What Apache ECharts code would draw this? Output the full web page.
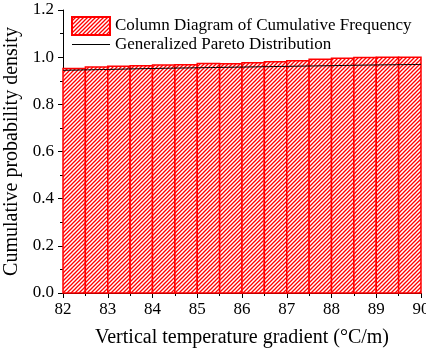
<!DOCTYPE html>
<html>
<head>
<meta charset="utf-8">
<script src="https://cdn.jsdelivr.net/npm/echarts@6/dist/echarts.min.js"></script>
<style>
  html, body {margin: 0; padding: 0; background: #fff;}
  #main {width: 426px; height: 349px;}
</style>
</head>
<body>
<div id="main"></div>
<script>
  // histogram bins (left edge, right edge) and cumulative frequency
  const binStarts = [82, 82.5, 83, 83.5, 84, 84.5, 85, 85.5, 86, 86.5, 87, 87.5, 88, 88.5, 89, 89.5];
  const binWidth = 0.5;
  const cumFreq = [0.952, 0.958, 0.962, 0.964, 0.967, 0.968, 0.973, 0.972, 0.976, 0.981, 0.985, 0.991, 0.995, 0.999, 1.0, 1.0];
  // fitted GPD curve
  const gpdX = [82, 83, 84, 85, 86, 87, 88, 89, 90];
  const gpdY = [0.944, 0.948, 0.952, 0.955, 0.958, 0.961, 0.964, 0.967, 0.969];

  const font = '"Liberation Serif", "Times New Roman", serif';
  const red = '#ff0000';

  // hatch pattern for the columns
  const pc = document.createElement('canvas');
  pc.width = 4; pc.height = 4;
  const g = pc.getContext('2d');
  g.fillStyle = '#fff';
  g.fillRect(0, 0, 4, 4);
  g.strokeStyle = red;
  g.lineWidth = 1.3;
  g.beginPath();
  g.moveTo(-1, 5); g.lineTo(5, -1);
  g.moveTo(-1, 1); g.lineTo(1, -1);
  g.moveTo(3, 5); g.lineTo(5, 3);
  g.stroke();
  const hatch = {image: pc, repeat: 'repeat'};

  const barData = binStarts.map((s, i) => [s, s + binWidth, cumFreq[i]]);

  const chart = echarts.init(document.getElementById('main'));
  chart.setOption({
    animation: false,
    grid: {left: 63, right: 5, top: 10, bottom: 56, outerBoundsMode: 'none', containLabel: false},
    legend: {
      left: 66, top: 11, orient: 'vertical', itemGap: 0,
      itemWidth: 38, itemHeight: 18,
      textStyle: {fontFamily: font, fontSize: 17, color: '#000'},
      data: [
        {name: 'Column Diagram of Cumulative Frequency', icon: 'rect'},
        {name: 'Generalized Pareto Distribution', icon: 'path://M0,9.5 L38,9.5 L38,10.5 L0,10.5 Z'}
      ]
    },
    xAxis: {
      type: 'value', min: 82, max: 90, interval: 1,
      axisLine: {lineStyle: {color: '#000', width: 1}},
      axisTick: {length: 5, lineStyle: {color: '#000'}},
      minorTick: {show: true, splitNumber: 2, length: 3, lineStyle: {color: '#000'}},
      splitLine: {show: false},
      axisLabel: {fontFamily: font, fontSize: 17, color: '#000', margin: 8},
      name: 'Vertical temperature gradient (\u00B0C/m)',
      nameLocation: 'middle', nameGap: 35,
      nameTextStyle: {fontFamily: font, fontSize: 20, color: '#000'}
    },
    yAxis: {
      type: 'value', min: 0, max: 1.2, interval: 0.2,
      axisLine: {show: true, lineStyle: {color: '#000', width: 1}},
      axisTick: {show: true, length: 5, lineStyle: {color: '#000'}},
      minorTick: {show: true, splitNumber: 2, length: 3, lineStyle: {color: '#000'}},
      splitLine: {show: false},
      axisLabel: {fontFamily: font, fontSize: 17, color: '#000', margin: 9,
        formatter: v => v.toFixed(1)},
      name: 'Cumulative probability density',
      nameLocation: 'middle', nameGap: 33,
      nameTextStyle: {fontFamily: font, fontSize: 20, color: '#000'}
    },
    series: [
      {
        name: 'Column Diagram of Cumulative Frequency',
        type: 'custom',
        itemStyle: {color: hatch, borderColor: red, borderWidth: 1.5},
        renderItem: (params, api) => {
          const p0 = api.coord([api.value(0), api.value(2)]);
          const p1 = api.coord([api.value(1), 0]);
          return {
            type: 'rect',
            shape: {x: p0[0], y: p0[1], width: p1[0] - p0[0], height: p1[1] - p0[1]},
            style: {fill: hatch, stroke: red, lineWidth: 1.5}
          };
        },
        encode: {x: [0, 1], y: 2},
        data: barData,
        z: 1
      },
      {
        name: 'Generalized Pareto Distribution',
        type: 'line',
        data: gpdX.map((x, i) => [x, gpdY[i]]),
        symbol: 'none',
        smooth: true,
        lineStyle: {color: '#000', width: 1},
        itemStyle: {color: '#000'},
        z: 3
      }
    ]
  });
</script>
</body>
</html>
